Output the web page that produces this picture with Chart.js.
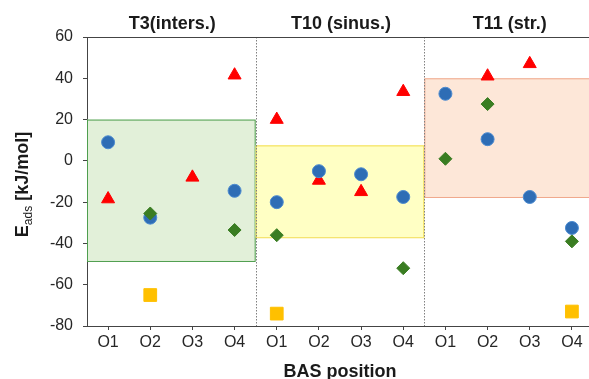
<!DOCTYPE html>
<html>
<head>
<meta charset="utf-8">
<script src="https://cdn.jsdelivr.net/npm/chart.js@4/dist/chart.umd.min.js"></script>
<style>
  html, body { margin: 0; padding: 0; background: #fff; overflow: hidden; }
  #wrap { width: 603px; height: 379px; }
</style>
</head>
<body>
<div id="wrap"><canvas id="adsChart" width="603" height="379"></canvas></div>
<script>
// BAS positions, four per channel
const categories = ['O1', 'O2', 'O3', 'O4', 'O1', 'O2', 'O3', 'O4', 'O1', 'O2', 'O3', 'O4'];

// channel groups and their shaded ranges (kJ/mol)
const groups = ['T3(inters.)', 'T10 (sinus.)', 'T11 (str.)'];
const groupTop = [20, 7.5, 40];
const groupBottom = [-48.5, -37, -17.5];

// adsorption energies per marker series
const blueCircles = [9, -27.5, null, -14.5, -20, -5, -6.5, -17.5, 32.5, 10.5, -17.5, -32.5];
const redTriangles = [-18.5, null, -8, 41.5, 20, -9.5, -15, 33.5, null, 41, 47, null];
const greenDiamonds = [null, -25.5, null, -33.5, -36, null, null, -52, 1, 27.5, null, -39];
const yellowSquares = [null, -65, null, null, -74, null, null, null, null, null, null, -73];

const yTicks = [-80, -60, -40, -20, 0, 20, 40, 60];

const boxStyles = [
  { fill: '#e2f0d9', line: '#4e9e4e' },
  { fill: '#ffffc4', line: '#f2dc4a' },
  { fill: '#fde7d8', line: '#f0a88c' }
];

const decorations = {
  id: 'decorations',
  beforeDatasetsDraw(chart) {
    const { ctx, chartArea: a, scales: { x, y } } = chart;
    ctx.save();
    groups.forEach((g, i) => {
      const left = i === 0 ? a.left : x.getPixelForValue(i * 4 - 0.5);
      const right = i === groups.length - 1 ? a.right : x.getPixelForValue(i * 4 + 3.5);
      const top = y.getPixelForValue(groupTop[i]);
      const bottom = y.getPixelForValue(groupBottom[i]);
      ctx.fillStyle = boxStyles[i].fill;
      ctx.fillRect(left, top, right - left, bottom - top);
      ctx.strokeStyle = boxStyles[i].line;
      ctx.lineWidth = 1;
      ctx.strokeRect(left + 0.5, top + 0.5, right - left - 1, bottom - top);
    });
    // dotted separators between channels
    ctx.strokeStyle = '#808080';
    ctx.setLineDash([1.5, 1.5]);
    for (let i = 1; i < groups.length; i++) {
      const px = Math.round(x.getPixelForValue(i * 4 - 0.5)) + 0.5;
      ctx.beginPath();
      ctx.moveTo(px, a.top);
      ctx.lineTo(px, a.bottom);
      ctx.stroke();
    }
    ctx.setLineDash([]);
    // top frame line
    ctx.strokeStyle = '#444';
    ctx.beginPath();
    ctx.moveTo(a.left, a.top + 0.5);
    ctx.lineTo(a.right, a.top + 0.5);
    ctx.stroke();
    ctx.restore();
  },
  afterDraw(chart) {
    const { ctx, chartArea: a, scales: { x } } = chart;
    ctx.save();
    ctx.fillStyle = '#1a1a1a';
    ctx.font = 'bold 18px "Liberation Sans", Arial, sans-serif';
    ctx.textAlign = 'center';
    ctx.textBaseline = 'alphabetic';
    groups.forEach((g, i) => {
      const left = i === 0 ? a.left : x.getPixelForValue(i * 4 - 0.5);
      const right = i === groups.length - 1 ? a.right : x.getPixelForValue(i * 4 + 3.5);
      ctx.fillText(g, (left + right) / 2 + 1, 29);
    });
    ctx.fillText('BAS position', 340, 377);

    // y title with subscript
    ctx.translate(28, (a.top + a.bottom) / 2 + 3);
    ctx.rotate(-Math.PI / 2);
    const big = 'bold 18px "Liberation Sans", Arial, sans-serif';
    const small = '12px "Liberation Sans", Arial, sans-serif';
    const rest = ' [kJ/mol]';
    ctx.font = big;
    const wE = ctx.measureText('E').width;
    const wR = ctx.measureText(rest).width;
    ctx.font = small;
    const wS = ctx.measureText('ads').width;
    let cx = -(wE + wS + wR) / 2;
    ctx.textAlign = 'left';
    ctx.font = big;
    ctx.fillText('E', cx, 0);
    cx += wE;
    ctx.font = small;
    ctx.fillText('ads', cx, 4);
    cx += wS;
    ctx.font = big;
    ctx.fillText(rest, cx, 0);
    ctx.restore();
  }
};

const ctx = document.getElementById('adsChart').getContext('2d');
const adsChart = new Chart(ctx, {
  type: 'line',
  data: {
    labels: categories,
    datasets: [
      {
        data: yellowSquares,
        pointStyle: 'rect',
        pointRadius: 9,
        backgroundColor: '#ffc000',
        borderColor: '#ffc000',
        borderWidth: 1
      },
      {
        data: greenDiamonds,
        pointStyle: 'rectRot',
        pointRadius: 6.5,
        backgroundColor: '#3a7d22',
        borderColor: '#3a7d22',
        borderWidth: 1
      },
      {
        data: blueCircles,
        pointStyle: 'circle',
        pointRadius: 6.5,
        backgroundColor: '#2e6db5',
        borderColor: '#4c8bd0',
        borderWidth: 1
      },
      {
        data: redTriangles,
        pointStyle: 'triangle',
        pointRadius: 7.5,
        backgroundColor: '#ff0000',
        borderColor: '#ff0000',
        borderWidth: 1
      }
    ].map(d => Object.assign({ showLine: false, pointHoverRadius: d.pointRadius }, d))
  },
  options: {
    responsive: false,
    animation: false,
    layout: { padding: { top: 37, left: 0, right: 0, bottom: 0 } },
    plugins: { legend: { display: false }, tooltip: { enabled: false } },
    scales: {
      x: {
        offset: true,
        grid: { display: true, drawOnChartArea: false, drawTicks: true, tickLength: 4, color: '#444', offset: false },
        border: { color: '#444', width: 1 },
        ticks: {
          color: '#262626',
          font: { family: '"Liberation Sans", Arial, sans-serif', size: 16 },
          padding: 3,
          maxRotation: 0,
          autoSkip: false
        },
        afterFit(scale) { scale.height = 53; }
      },
      y: {
        min: -80,
        max: 60,
        grid: { display: true, drawOnChartArea: false, drawTicks: true, tickLength: 4, color: '#444' },
        border: { color: '#444', width: 1 },
        ticks: {
          stepSize: 10,
          color: '#262626',
          font: { family: '"Liberation Sans", Arial, sans-serif', size: 16 },
          padding: 10,
          callback: v => (yTicks.includes(v) ? v : '')
        },
        afterFit(scale) { scale.width = 87; }
      }
    }
  },
  plugins: [decorations]
});
</script>
</body>
</html>
